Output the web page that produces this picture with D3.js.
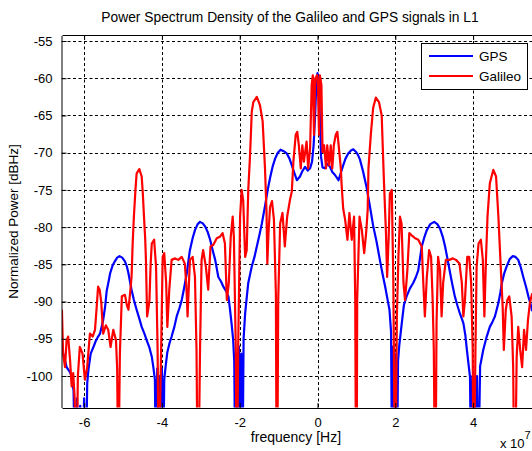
<!DOCTYPE html>
<html>
<head>
<meta charset="utf-8">
<script src="https://cdn.jsdelivr.net/npm/d3@7"></script>
<style>
  body { margin: 0; background: #fff; }
  text { font-family: "Liberation Sans", Arial, sans-serif; fill: #000; }
</style>
</head>
<body>
<div id="chart"></div>
<script>
var width = 532,
    height = 451

// frequency in units of 1e7 Hz, power in dBHz
var gpsFreq = [-6.57,-6.54,-6.45,-6.36,-6.32,-6.27,-6.23,-6.18,-6.14,-6.10,-6.05,-6.00,-5.96,-5.92,-5.89,-5.83,-5.76,-5.70,-5.64,-5.59,-5.55,-5.51,-5.46,-5.42,-5.37,-5.33,-5.27,-5.21,-5.15,-5.09,-5.02,-4.95,-4.90,-4.86,-4.82,-4.78,-4.72,-4.65,-4.58,-4.52,-4.45,-4.39,-4.32,-4.26,-4.22,-4.18,-4.15,-4.12,-4.09,-4.06,-4.03,-4.00,-3.97,-3.94,-3.90,-3.86,-3.80,-3.75,-3.68,-3.62,-3.55,-3.49,-3.43,-3.36,-3.32,-3.28,-3.21,-3.15,-3.08,-3.02,-2.95,-2.89,-2.82,-2.76,-2.70,-2.63,-2.55,-2.48,-2.42,-2.35,-2.29,-2.25,-2.21,-2.17,-2.14,-2.11,-2.08,-2.05,-2.02,-1.99,-1.96,-1.93,-1.90,-1.86,-1.82,-1.78,-1.69,-1.62,-1.56,-1.49,-1.43,-1.35,-1.28,-1.22,-1.15,-1.09,-1.02,-0.95,-0.87,-0.79,-0.72,-0.66,-0.59,-0.53,-0.45,-0.39,-0.32,-0.25,-0.19,-0.14,-0.10,-0.06,-0.03,0.00,0.03,0.06,0.09,0.13,0.19,0.25,0.32,0.38,0.45,0.54,0.60,0.66,0.72,0.79,0.86,0.92,0.99,1.04,1.09,1.17,1.26,1.35,1.43,1.52,1.61,1.68,1.74,1.80,1.85,1.89,1.92,1.95,1.98,2.01,2.04,2.07,2.10,2.16,2.22,2.29,2.38,2.46,2.53,2.59,2.64,2.68,2.75,2.81,2.90,3.00,3.08,3.15,3.22,3.28,3.35,3.41,3.47,3.53,3.60,3.66,3.75,3.80,3.84,3.88,3.92,3.95,3.98,4.01,4.04,4.07,4.10,4.13,4.18,4.26,4.35,4.43,4.50,4.56,4.65,4.70,4.74,4.80,4.86,4.94,5.02,5.09,5.16,5.22,5.29,5.36,5.42,5.48,5.52]
var gpsPower = [-96.5,-96.9,-98.8,-99.5,-100.1,-102,-115,-103,-115,-104,-115,-103,-115,-101,-99.2,-97.0,-96.1,-95.3,-94.7,-94.3,-93.4,-92.5,-90.7,-88.6,-87.3,-86.2,-85.2,-84.6,-84.1,-83.9,-84.1,-84.6,-85.3,-86.2,-87.3,-88.4,-89.8,-91.1,-92.3,-93.4,-94.3,-95.2,-96.2,-97.4,-98.8,-100.5,-115,-99,-115,-100,-115,-99,-115,-100.5,-98.5,-96.8,-95.5,-94.7,-93.4,-92.0,-90.9,-89.8,-88.2,-86.2,-84.6,-83.1,-81.5,-80.4,-79.6,-79.3,-79.5,-79.9,-80.7,-81.7,-83.0,-84.4,-86.7,-87.3,-88.0,-88.6,-89.3,-91.0,-92.9,-95.0,-98,-115,-97,-115,-96,-115,-97,-115,-95,-91.6,-89.5,-87.5,-85.3,-84.0,-82.6,-81.0,-79.5,-77.2,-75.0,-73.4,-71.8,-70.8,-70.0,-69.6,-69.8,-70.1,-70.8,-71.7,-72.8,-73.7,-73.2,-72.5,-71.9,-72.4,-72.1,-71.2,-69,-64.9,-60.5,-59.3,-60.5,-64.9,-70.5,-72.0,-72.1,-71.5,-71.9,-72.6,-73.0,-73.7,-72.7,-71.7,-70.8,-70.1,-69.7,-69.55,-69.9,-70.3,-70.9,-72.5,-74.6,-77.3,-79.8,-82.0,-84.6,-86.5,-88.0,-89.7,-91.1,-94,-115,-96,-115,-97,-115,-98,-96,-93.2,-90.5,-89.3,-88.2,-87.5,-86.7,-85.8,-84.0,-82.6,-81.3,-80.4,-79.6,-79.3,-79.6,-80.2,-81.3,-82.6,-84.5,-86.2,-87.8,-89.3,-90.6,-91.6,-92.9,-94.5,-96.5,-98.3,-100.1,-115,-100,-115,-101,-115,-100,-115,-98.7,-96.5,-94.7,-93.4,-92.7,-92.0,-90.2,-88.8,-87.5,-86.2,-85.3,-84.3,-83.9,-84.0,-84.4,-85.3,-86.7,-88.0,-89.3,-90.4,-91.3]

var galFreq = [-6.57,-6.54,-6.49,-6.45,-6.41,-6.36,-6.32,-6.28,-6.24,-6.20,-6.16,-6.11,-6.04,-5.98,-5.92,-5.85,-5.78,-5.72,-5.68,-5.64,-5.60,-5.56,-5.51,-5.44,-5.38,-5.32,-5.25,-5.18,-5.15,-5.12,-5.08,-5.03,-4.95,-4.90,-4.86,-4.82,-4.78,-4.75,-4.72,-4.68,-4.65,-4.58,-4.52,-4.49,-4.46,-4.43,-4.41,-4.38,-4.35,-4.32,-4.29,-4.26,-4.20,-4.15,-4.11,-4.08,-4.05,-4.02,-3.98,-3.94,-3.89,-3.86,-3.81,-3.75,-3.66,-3.58,-3.49,-3.41,-3.37,-3.34,-3.28,-3.21,-3.15,-3.11,-3.08,-3.05,-3.02,-2.98,-2.94,-2.87,-2.81,-2.75,-2.68,-2.59,-2.51,-2.44,-2.38,-2.33,-2.28,-2.23,-2.18,-2.15,-2.10,-2.08,-2.06,-2.04,-1.99,-1.95,-1.91,-1.86,-1.82,-1.78,-1.74,-1.72,-1.69,-1.65,-1.56,-1.48,-1.41,-1.35,-1.31,-1.29,-1.26,-1.22,-1.17,-1.12,-1.07,-1.05,-1.03,-1.01,-0.96,-0.90,-0.84,-0.78,-0.71,-0.66,-0.62,-0.56,-0.52,-0.48,-0.43,-0.39,-0.35,-0.28,-0.24,-0.19,-0.15,-0.12,-0.09,-0.06,-0.01,0.01,0.04,0.06,0.10,0.13,0.17,0.22,0.25,0.30,0.34,0.38,0.42,0.47,0.51,0.56,0.60,0.62,0.66,0.71,0.77,0.82,0.88,0.94,0.97,0.99,1.01,1.02,1.08,1.14,1.20,1.25,1.29,1.31,1.37,1.43,1.50,1.58,1.65,1.68,1.71,1.76,1.79,1.83,1.86,1.91,1.95,1.99,2.01,2.04,2.08,2.12,2.16,2.21,2.25,2.31,2.36,2.42,2.51,2.59,2.68,2.72,2.76,2.81,2.87,2.92,2.96,2.99,3.02,3.04,3.06,3.10,3.15,3.19,3.23,3.30,3.39,3.48,3.56,3.65,3.71,3.75,3.79,3.85,3.90,3.95,3.99,4.01,4.03,4.06,4.09,4.14,4.20,4.25,4.29,4.33,4.37,4.43,4.52,4.59,4.65,4.71,4.76,4.79,4.84,4.88,4.93,4.99,5.03,5.06,5.09,5.12,5.16,5.21,5.26,5.31,5.36,5.41,5.46,5.52]
var galPower = [-91.1,-97.0,-98.8,-95.2,-94.7,-97.9,-101.4,-99.6,-103.2,-115,-100,-96.1,-97.0,-100.5,-98.8,-94.3,-94.7,-93.8,-91.0,-88.0,-88.4,-90.0,-94.3,-93.2,-93.8,-96.1,-93.8,-95.2,-99,-115,-97,-89.3,-89.1,-90.5,-91.1,-89.0,-86.7,-82.0,-78.6,-75.0,-72.8,-72.2,-73.2,-75.5,-78.6,-81.5,-84.4,-92.0,-91.0,-89.8,-85.0,-82.2,-81.7,-85.3,-96.5,-115,-105,-96.5,-84.0,-83.5,-87.5,-93.4,-88.4,-84.4,-84.2,-84.4,-84.0,-84.9,-88,-92.0,-84.4,-84.0,-86.7,-96.5,-115,-110,-96.5,-84.4,-83.1,-85.3,-88.4,-82.6,-82.4,-81.5,-81.3,-80.8,-82.2,-89.8,-87.5,-81.3,-78.6,-81.3,-96.5,-115,-110,-96.5,-78.6,-75.0,-76.4,-84.0,-83.1,-75.0,-71.0,-68.5,-64.5,-63.2,-62.5,-63.6,-65.8,-72.1,-78.0,-84.9,-80.8,-77.3,-76.5,-79.0,-88.9,-115,-110,-89.8,-79.5,-78.1,-82.6,-78.6,-76.4,-75.2,-71.2,-67.6,-67.2,-69.0,-72.1,-69.0,-71.2,-68.5,-72.1,-69.4,-60.9,-59.6,-67.6,-60.0,-59.6,-60.9,-67.6,-59.6,-60.9,-69.9,-69.0,-72.1,-69.0,-71.7,-69.0,-72.1,-69.0,-67.6,-67.2,-69.9,-72.1,-74.3,-77.5,-79.0,-81.7,-78.1,-81.7,-78.6,-89.8,-115,-110,-89.8,-78.6,-80.4,-83.5,-80.8,-77.7,-72.1,-67.6,-64.0,-62.6,-63.2,-65.0,-69.6,-74.1,-80.8,-86.7,-81.3,-75.5,-75.0,-87.5,-115,-110,-92.0,-84.0,-78.6,-79.5,-87.5,-89.8,-85.8,-80.8,-81.1,-81.5,-81.7,-82.6,-87.5,-92.0,-86.7,-83.1,-84.0,-89.8,-96.5,-115,-110,-92.9,-84.0,-85.8,-92.0,-87.5,-84.4,-84.4,-84.2,-84.4,-84.9,-87.5,-92.0,-89.8,-84.0,-84.0,-87.5,-96.5,-115,-110,-96.5,-85.3,-82.2,-81.7,-84.4,-92.0,-84.4,-78.6,-74.1,-72.3,-73.2,-78.6,-85.3,-90.7,-96.5,-91.1,-89.8,-89.3,-92.0,-98.8,-115,-110,-97.4,-93.4,-96.5,-98.8,-93.8,-96.5,-92.5,-90.2,-88.9]

var xTicks = [-6, -4, -2, 0, 2, 4]
var yTicks = [-100, -95, -90, -85, -80, -75, -70, -65, -60, -55]
var seriesNames = ["GPS", "Galileo"]
var seriesColors = ["#0000ff", "#ff0000"]

var plotLeft = 62, plotTop = 35.5, plotRight = 535, plotBottom = 407.5

var x = d3.scaleLinear().domain([-6.568, 5.591]).range([plotLeft, plotRight])
var y = d3.scaleLinear().domain([-104.23, -54.26]).range([plotBottom, plotTop])

var svg = d3.select("#chart")
  .append("svg")
    .attr("width", width)
    .attr("height", height)

svg.append("defs").append("clipPath")
    .attr("id", "clip")
  .append("rect")
    .attr("x", plotLeft)
    .attr("y", plotTop)
    .attr("width", plotRight - plotLeft)
    .attr("height", plotBottom - plotTop)

// grid
var grid = svg.append("g")
grid.selectAll("vgrid")
  .data(xTicks)
  .enter()
  .append("line")
    .attr("x1", function(d){ return Math.round(x(d)) + 0.5 })
    .attr("x2", function(d){ return Math.round(x(d)) + 0.5 })
    .attr("y1", plotTop)
    .attr("y2", plotBottom)
    .attr("stroke", "#000")
    .attr("stroke-dasharray", "3,2.5")
grid.selectAll("hgrid")
  .data(yTicks)
  .enter()
  .append("line")
    .attr("x1", plotLeft)
    .attr("x2", plotRight)
    .attr("y1", function(d){ return Math.round(y(d)) + 0.5 })
    .attr("y2", function(d){ return Math.round(y(d)) + 0.5 })
    .attr("stroke", "#000")
    .attr("stroke-dasharray", "3,2.5")

var line = d3.line()
  .x(function(d){ return x(d[0]) })
  .y(function(d){ return y(d[1]) })

var series = [d3.zip(gpsFreq, gpsPower), d3.zip(galFreq, galPower)]

svg.append("g")
    .attr("clip-path", "url(#clip)")
  .selectAll("path")
  .data(series)
  .enter()
  .append("path")
    .attr("d", line)
    .attr("fill", "none")
    .attr("stroke", function(d, i){ return seriesColors[i] })
    .attr("stroke-width", 2.2)
    .attr("stroke-linejoin", "round")

// axes (MATLAB style, ticks inside)
var fmt = function(d){ return String(d) }
svg.append("g")
    .attr("transform", "translate(0," + (plotBottom + 0.5) + ")")
    .call(d3.axisBottom(x).tickValues(xTicks).tickFormat(fmt).tickSizeInner(-5).tickSizeOuter(0).tickPadding(10))
svg.append("g")
    .attr("transform", "translate(0," + (plotTop - 0.5) + ")")
    .call(d3.axisTop(x).tickValues(xTicks).tickSizeInner(-5).tickSizeOuter(0).tickFormat(""))
svg.append("g")
    .attr("transform", "translate(" + (plotLeft - 0.5) + ",0)")
    .call(d3.axisLeft(y).tickValues(yTicks).tickFormat(fmt).tickSizeInner(-5).tickSizeOuter(0).tickPadding(9))

svg.selectAll(".domain, .tick line").attr("stroke", "#000")
svg.selectAll(".tick text")
    .style("font-family", "'Liberation Sans', Arial, sans-serif")
    .style("font-size", "13px")
    .attr("fill", "#000")

// labels
svg.append("text")
    .attr("x", 290)
    .attr("y", 22)
    .attr("text-anchor", "middle")
    .style("font-size", "13.8px")
    .text("Power Spectrum Density of the Galileo and GPS signals in L1")

svg.append("text")
    .attr("x", 296)
    .attr("y", 442)
    .attr("text-anchor", "middle")
    .style("font-size", "14px")
    .text("frequency [Hz]")

var sci = svg.append("text")
    .attr("x", 500)
    .attr("y", 448)
    .style("font-size", "13px")
sci.append("tspan").text("x 10")
sci.append("tspan").attr("dy", -9).style("font-size", "11px").text("7")

svg.append("text")
    .attr("transform", "translate(18," + ((plotTop + plotBottom) / 2) + ") rotate(-90)")
    .attr("text-anchor", "middle")
    .style("font-size", "13.5px")
    .text("Normalized Power [dBHz]")

// legend
var legend = svg.append("g")
legend.append("rect")
    .attr("x", 421.5)
    .attr("y", 43.5)
    .attr("width", 106)
    .attr("height", 46)
    .attr("fill", "#fff")
    .attr("stroke", "#000")

legend.selectAll("legline")
  .data(seriesNames)
  .enter()
  .append("line")
    .attr("x1", 429)
    .attr("x2", 473)
    .attr("y1", function(d, i){ return 56 + i * 20 })
    .attr("y2", function(d, i){ return 56 + i * 20 })
    .attr("stroke", function(d, i){ return seriesColors[i] })
    .attr("stroke-width", 2)

legend.selectAll("legtext")
  .data(seriesNames)
  .enter()
  .append("text")
    .attr("x", 479)
    .attr("y", function(d, i){ return 61 + i * 20 })
    .style("font-size", "13.5px")
    .text(function(d){ return d })
</script>
</body>
</html>
